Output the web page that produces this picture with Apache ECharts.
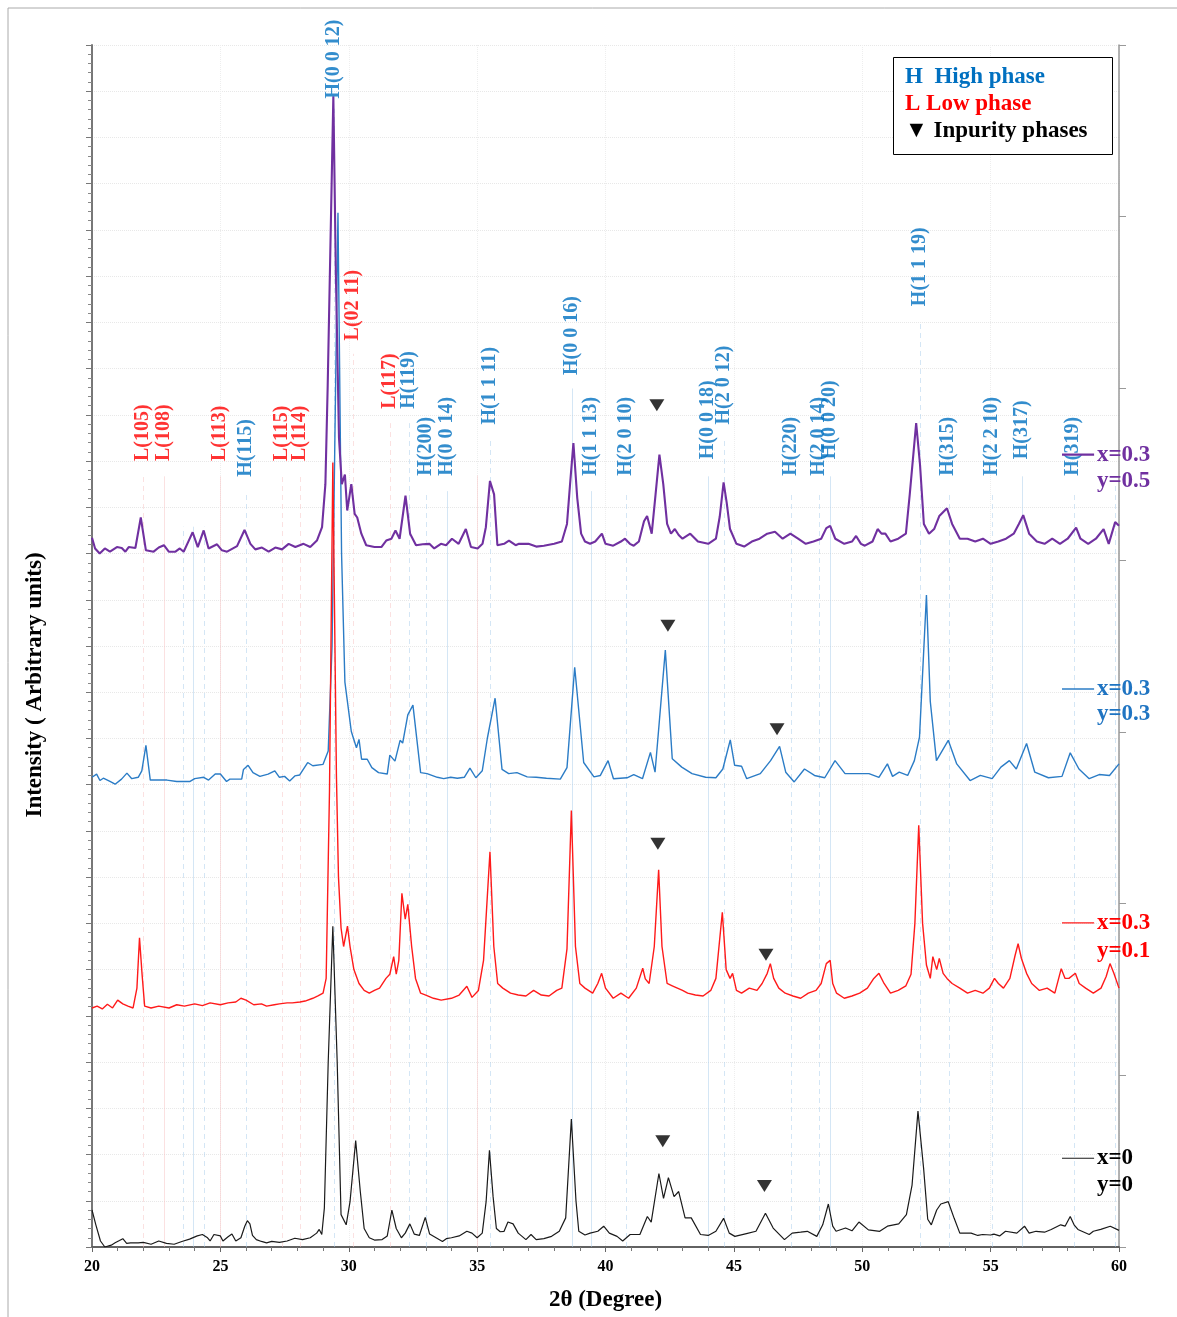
<!DOCTYPE html>
<html>
<head>
<meta charset="utf-8">
<script src="https://cdn.jsdelivr.net/npm/echarts/dist/echarts.min.js"></script>
<style>
  html, body { margin: 0; padding: 0; background: #fff; }
  #chart { width: 1177px; height: 1317px; }
</style>
</head>
<body>
<div id="chart"></div>
<script>
// ---- XRD patterns: [2θ (deg), intensity (a.u.)] ----
const patternX0Y0 = [
  [20.0,80],[20.15,48],[20.33,13],[20.5,0],[20.75,4],[20.9,9],[21.07,14],[21.2,18],[21.35,8],[21.5,9],
  [21.8,9],[22.0,10],[22.3,6],[22.6,13],[22.9,8],[23.2,6],[23.5,12],[23.8,17],[24.1,24],[24.3,27],
  [24.5,20],[24.6,13],[24.75,27],[25.0,24],[25.1,13],[25.3,22],[25.45,28],[25.6,13],[25.8,20],[25.95,45],
  [26.05,57],[26.15,50],[26.25,25],[26.4,16],[26.6,12],[26.8,9],[27.0,12],[27.3,10],[27.6,13],[27.9,19],
  [28.2,16],[28.5,20],[28.75,30],[28.85,38],[28.95,27],[29.05,84],[29.2,400],[29.38,694],[29.55,400],[29.7,70],
  [29.9,48],[30.05,98],[30.27,230],[30.45,120],[30.6,40],[30.8,20],[31.0,15],[31.3,16],[31.5,24],[31.68,80],
  [31.85,40],[32.05,20],[32.2,30],[32.38,50],[32.55,28],[32.75,25],[32.98,64],[33.15,28],[33.4,20],[33.65,12],
  [33.8,18],[34.0,20],[34.3,24],[34.6,34],[34.8,30],[35.0,20],[35.2,30],[35.35,98],[35.48,209],[35.62,110],
  [35.75,40],[35.9,33],[36.05,34],[36.2,54],[36.4,50],[36.6,30],[36.9,16],[37.1,27],[37.3,16],[37.6,18],
  [37.9,23],[38.2,34],[38.45,63],[38.67,277],[38.85,100],[38.96,34],[39.2,26],[39.4,30],[39.7,34],[39.93,45],
  [40.15,30],[40.45,23],[40.67,13],[40.96,27],[41.34,27],[41.63,66],[41.78,54],[42.08,159],[42.26,105],[42.45,150],
  [42.67,109],[42.85,120],[43.1,63],[43.34,63],[43.7,27],[44.0,25],[44.3,34],[44.6,62],[44.82,30],[45.04,23],
  [45.49,29],[45.86,34],[46.23,73],[46.53,41],[46.97,16],[47.27,30],[47.6,32],[47.86,34],[48.23,23],[48.46,48],
  [48.68,93],[48.85,45],[48.98,34],[49.35,41],[49.6,35],[49.87,54],[50.24,37],[50.68,34],[50.98,45],[51.42,50],
  [51.72,70],[51.94,134],[52.17,294],[52.39,170],[52.55,60],[52.69,48],[52.9,80],[53.06,93],[53.35,98],[53.58,62],
  [53.8,30],[54.24,30],[54.5,25],[54.69,27],[55.0,26],[55.13,28],[55.35,24],[55.58,34],[56.02,30],[56.32,45],
  [56.5,30],[56.77,34],[57.1,32],[57.36,38],[57.73,48],[57.9,45],[58.1,66],[58.25,48],[58.4,38],[58.84,27],
  [59.0,34],[59.29,38],[59.66,45],[60.0,36]
];

const patternX03Y01 = [
  [20.0,17],[20.2,21],[20.4,15],[20.6,25],[20.8,17],[21.0,34],[21.2,26],[21.4,21],[21.6,17],[21.75,60],
  [21.85,169],[21.95,90],[22.05,21],[22.3,17],[22.6,21],[23.0,17],[23.3,24],[23.6,21],[24.0,26],[24.3,22],
  [24.6,28],[25.0,24],[25.3,28],[25.6,30],[25.8,38],[26.0,34],[26.3,24],[26.6,26],[26.8,21],[27.1,24],
  [27.3,26],[27.6,28],[27.8,28],[28.1,30],[28.3,32],[28.6,38],[28.8,43],[29.0,49],[29.12,81],[29.25,487],
  [29.38,1197],[29.52,520],[29.6,300],[29.7,190],[29.8,150],[29.95,194],[30.05,150],[30.2,100],[30.4,70],[30.6,55],
  [30.8,49],[31.0,55],[31.2,60],[31.45,81],[31.6,90],[31.75,128],[31.85,90],[31.95,120],[32.07,265],[32.2,209],
  [32.3,241],[32.45,150],[32.6,81],[32.8,49],[33.0,45],[33.3,38],[33.6,34],[34.0,38],[34.3,45],[34.6,64],
  [34.8,40],[35.05,55],[35.25,120],[35.5,355],[35.65,150],[35.8,70],[36.0,60],[36.3,49],[36.6,45],[36.9,43],
  [37.2,55],[37.5,45],[37.8,43],[38.1,55],[38.3,60],[38.5,145],[38.67,444],[38.83,150],[39.0,70],[39.2,60],
  [39.5,49],[39.7,70],[39.85,92],[40.0,60],[40.3,38],[40.6,49],[40.9,38],[41.2,60],[41.45,103],[41.55,80],
  [41.7,70],[41.9,150],[42.07,316],[42.2,150],[42.4,70],[42.6,65],[42.8,60],[43.0,55],[43.2,49],[43.5,45],
  [43.8,43],[44.1,55],[44.3,81],[44.55,224],[44.7,100],[44.85,81],[44.95,92],[45.1,55],[45.3,49],[45.6,60],
  [45.9,55],[46.1,70],[46.3,92],[46.42,113],[46.55,81],[46.75,60],[47.0,49],[47.3,43],[47.6,38],[47.9,49],
  [48.2,55],[48.4,70],[48.6,113],[48.75,120],[48.85,70],[49.0,49],[49.3,38],[49.6,43],[49.9,49],[50.2,60],
  [50.45,81],[50.65,92],[50.85,70],[51.1,49],[51.4,55],[51.7,65],[51.9,90],[52.05,200],[52.2,412],[52.35,200],
  [52.5,110],[52.65,81],[52.75,128],[52.9,100],[53.0,124],[53.15,92],[53.3,81],[53.5,70],[53.8,60],[54.1,49],
  [54.4,55],[54.7,49],[54.95,60],[55.15,81],[55.3,70],[55.5,60],[55.75,81],[55.95,130],[56.07,156],[56.2,124],
  [56.4,92],[56.6,70],[56.9,55],[57.2,60],[57.5,49],[57.75,102],[57.9,81],[58.05,81],[58.3,92],[58.45,70],
  [58.7,60],[59.0,49],[59.3,60],[59.5,85],[59.65,113],[59.8,92],[60.0,60]
];

const patternX03Y03 = [
  [20.0,16],[20.18,23],[20.31,9],[20.44,14],[20.7,7],[20.9,1],[21.15,12],[21.36,25],[21.55,13],[21.8,16],
  [21.94,30],[22.1,85],[22.27,10],[22.53,10],[22.92,10],[23.3,7],[23.82,7],[24.0,13],[24.35,16],[24.54,10],
  [24.8,23],[25.0,23],[25.24,7],[25.37,12],[25.83,12],[25.9,33],[26.08,42],[26.27,26],[26.54,18],[26.86,23],
  [27.12,30],[27.3,16],[27.5,18],[27.7,8],[27.9,19],[28.09,21],[28.4,48],[28.6,41],[29.0,44],[29.2,73],
  [29.35,300],[29.58,1237],[29.72,500],[29.85,222],[30.1,115],[30.3,80],[30.4,98],[30.5,55],[30.72,55],[30.9,37],
  [31.16,26],[31.5,23],[31.6,64],[31.8,51],[32.0,96],[32.1,90],[32.3,151],[32.5,172],[32.8,26],[33.05,24],
  [33.45,16],[33.7,13],[33.97,16],[34.23,14],[34.5,16],[34.72,36],[34.95,15],[35.2,30],[35.4,101],[35.7,187],
  [35.97,33],[36.23,24],[36.55,26],[36.95,17],[37.3,16],[37.7,14],[38.24,12],[38.5,37],[38.8,254],[39.15,48],
  [39.55,17],[39.8,20],[40.1,52],[40.31,13],[40.84,15],[41.1,22],[41.44,13],[41.75,70],[41.93,27],[42.33,291],
  [42.6,56],[42.97,38],[43.37,24],[43.9,16],[44.3,15],[44.57,34],[44.86,97],[45.03,42],[45.3,40],[45.5,13],
  [46.03,24],[46.43,52],[46.78,83],[47.02,27],[47.35,6],[47.75,34],[48.14,20],[48.54,15],[48.94,52],[49.33,24],
  [49.73,24],[50.26,24],[50.65,16],[50.98,45],[51.18,18],[51.44,27],[51.77,20],[52.03,52],[52.23,103],[52.5,410],
  [52.65,180],[52.89,52],[53.35,96],[53.68,45],[54.2,9],[54.6,20],[55.06,13],[55.4,38],[55.73,52],[56.0,34],
  [56.4,89],[56.72,27],[57.25,15],[57.78,18],[58.1,69],[58.44,34],[58.84,13],[59.23,22],[59.63,20],[60.0,45]
];

const patternX03Y05 = [
  [20.0,34],[20.12,11],[20.3,0],[20.5,11],[20.7,4],[20.97,14],[21.16,12],[21.3,4],[21.43,14],[21.69,12],
  [21.9,78],[22.1,7],[22.4,4],[22.6,13],[22.8,18],[22.99,4],[23.25,4],[23.42,11],[23.57,4],[23.77,28],
  [23.92,46],[24.12,14],[24.35,50],[24.54,11],[24.87,20],[25.06,7],[25.26,4],[25.65,16],[25.94,51],[26.17,21],
  [26.36,9],[26.62,13],[26.88,4],[27.14,13],[27.4,9],[27.66,21],[27.92,14],[28.24,21],[28.5,14],[28.76,28],
  [28.96,57],[29.09,150],[29.18,363],[29.4,989],[29.5,600],[29.62,250],[29.73,150],[29.85,171],[29.94,93],[30.1,150],
  [30.23,86],[30.33,78],[30.49,43],[30.68,18],[31.0,14],[31.27,14],[31.46,28],[31.66,32],[31.82,50],[31.98,32],
  [32.21,125],[32.39,43],[32.62,18],[32.88,20],[33.14,21],[33.33,11],[33.59,21],[33.79,18],[34.02,32],[34.28,21],
  [34.56,53],[34.76,14],[35.02,11],[35.21,21],[35.34,57],[35.5,157],[35.66,128],[35.79,18],[36.05,21],[36.24,28],
  [36.5,18],[36.63,21],[37.0,21],[37.3,15],[37.6,17],[38.0,21],[38.3,26],[38.5,64],[38.62,150],[38.75,239],
  [38.9,120],[39.05,43],[39.2,26],[39.4,21],[39.6,26],[39.86,43],[40.0,21],[40.3,17],[40.6,26],[40.76,32],
  [40.95,21],[41.1,17],[41.3,26],[41.5,70],[41.62,81],[41.8,43],[41.95,128],[42.1,214],[42.25,150],[42.4,64],
  [42.55,43],[42.7,53],[42.85,40],[43.0,32],[43.3,43],[43.6,26],[44.0,21],[44.3,32],[44.45,80],[44.6,154],
  [44.72,110],[44.85,53],[45.1,21],[45.4,15],[45.7,26],[46.0,32],[46.3,43],[46.6,47],[46.9,32],[47.2,43],
  [47.5,32],[47.8,21],[48.1,26],[48.4,32],[48.6,55],[48.75,60],[48.95,32],[49.3,21],[49.6,26],[49.76,38],
  [49.95,21],[50.1,17],[50.4,26],[50.6,53],[50.75,43],[50.9,43],[51.1,26],[51.4,32],[51.7,43],[51.85,128],
  [52.1,282],[52.25,192],[52.4,64],[52.6,43],[52.8,53],[53.0,81],[53.3,98],[53.5,64],[53.8,32],[54.1,32],
  [54.4,26],[54.7,32],[55.0,21],[55.3,26],[55.6,32],[55.9,43],[56.1,64],[56.27,83],[56.5,43],[56.8,26],
  [57.1,21],[57.4,32],[57.7,21],[58.0,32],[58.33,56],[58.5,32],[58.8,21],[59.1,32],[59.4,53],[59.6,21],
  [59.85,68],[60.0,60]
];

// vertical stacking offset of each pattern (a.u.)
const stackOffset = [0, 500, 1000, 1500];
const sampleNames = [['x=0', 'y=0'], ['x=0.3', 'y=0.1'], ['x=0.3', 'y=0.3'], ['x=0.3', 'y=0.5']];

// ---- indexed reflections (2θ, hkl, phase) ----
const hklPos = [22.0, 22.8, 25.0, 27.42, 28.1, 30.18, 31.6, 35.0,
  23.57, 23.96, 24.36, 26.0, 29.42, 32.35, 33.03, 33.85, 35.5, 38.71, 39.43, 40.8,
  44.02, 44.64, 47.25, 48.31, 48.74, 52.25, 53.37, 55.07, 56.25, 58.24, 59.87];
const hklText = ['L(105)', 'L(108)', 'L(113)', 'L(115)', 'L(114)', 'L(02 11)', 'L(117)', '',
  '', '', '', 'H(115)', 'H(0 0 12)', 'H(119)', 'H(200)', 'H(0 0 14)', 'H(1 1 11)', 'H(0 0 16)', 'H(1 1 13)', 'H(2 0 10)',
  'H(0 0 18)', 'H(2 0 12)', 'H(220)', 'H(2 0 14)', 'H(0 0 20)', 'H(1 1 19)', 'H(315)', 'H(2 2 10)', 'H(317)', 'H(319)', ''];
const hklPhase = ['L', 'L', 'L', 'L', 'L', 'L', 'L', 'L',
  'H', 'H', 'H', 'H', 'H', 'H', 'H', 'H', 'H', 'H', 'H', 'H',
  'H', 'H', 'H', 'H', 'H', 'H', 'H', 'H', 'H', 'H', 'H'];

// impurity reflections per pattern: [2θ, height of the marker]
const impurityMarks = [[42.0, 1821], [42.43, 1344], [46.68, 1120], [42.04, 872], [46.25, 632], [42.23, 229], [46.19, 132]];

// ---- layout helpers (intensity units) ----
const hklLabelBase = [1699, 1699, 1699, 1699, 1699, 1960, 1812, null,
  null, null, null, 1665, 2483, 1812, 1667, 1667, 1778, 1885, 1667, 1667,
  1703, 1778, 1667, 1667, 1703, 2034, 1667, 1667, 1703, 1667, null];
const hklGuideTop = [1667, 1667, 1667, 1667, 1667, 1932, 1782, 1669,
  1558, 1558, 1558, 1628, 2462, 1782, 1635, 1635, 1746, 1857, 1635, 1635,
  1667, 1746, 1635, 1635, 1667, 2000, 1635, 1635, 1667, 1635, 1656];
const solidGuides = [22.8, 25.0, 35.0, 23.96, 33.85, 38.71, 39.43, 44.02, 48.74, 56.25];
const tagRows = [[192, 135], [701, 641], [1207, 1152], [1714, 1656]];

const SERIF = '"Liberation Serif", "Times New Roman", serif';
const sampleColors = ['#1a1a1a', '#ff1a1a', '#2b7cc6', '#7030a0'];
const tagColors = ['#000000', '#ff0000', '#1f74c2', '#7030a0'];
const lineWidths = [1.2, 1.4, 1.4, 2.1];
const H_COLOR = '#0070c0', L_COLOR = '#ff0000';

const chart = echarts.init(document.getElementById('chart'), null, { renderer: 'canvas' });

const patterns = [patternX0Y0, patternX03Y01, patternX03Y03, patternX03Y05];
const drawOrder = [0, 2, 1, 3];

const guideData = hklPos.map((x, i) => ({
  coords: [[x, 0], [x, hklGuideTop[i]]],
  lineStyle: {
    color: hklPhase[i] === 'H' ? '#a9cdec' : '#f7c4c4',
    type: solidGuides.indexOf(x) >= 0 ? 'solid' : [5, 4],
    width: 1
  }
}));

const labelData = [];
hklPos.forEach((x, i) => {
  if (!hklText[i]) return;
  labelData.push({
    value: [x, hklLabelBase[i]],
    name: hklText[i],
    label: { color: hklPhase[i] === 'H' ? H_COLOR : L_COLOR }
  });
});

const series = [
  {
    type: 'lines', coordinateSystem: 'cartesian2d', xAxisIndex: 0, yAxisIndex: 0,
    data: guideData, silent: true, z: 1, animation: false
  }
];
drawOrder.forEach(k => {
  series.push({
    type: 'line', xAxisIndex: 0, yAxisIndex: 0,
    data: patterns[k].map(p => [p[0], p[1] + stackOffset[k]]),
    showSymbol: false, symbol: 'none',
    lineStyle: { color: sampleColors[k], width: lineWidths[k] },
    z: 3, animation: false, silent: true
  });
});
series.push({
  type: 'scatter', xAxisIndex: 0, yAxisIndex: 0,
  data: impurityMarks,
  symbol: 'triangle', symbolRotate: 180, symbolSize: [15, 12],
  itemStyle: { color: '#000' }, z: 5, animation: false, silent: true
});
series.push({
  type: 'scatter', xAxisIndex: 0, yAxisIndex: 0,
  data: labelData, symbolSize: 1, itemStyle: { color: 'rgba(0,0,0,0)' },
  label: {
    show: true, formatter: p => p.name, position: [0, 0], rotate: 90,
    align: 'left', verticalAlign: 'middle',
    fontFamily: SERIF, fontWeight: 'bold', fontSize: 20
  },
  z: 6, animation: false, silent: true
});

chart.setOption({
  backgroundColor: '#fff',
  animation: false,
  grid: { left: 92, right: 58, top: 45, bottom: 55 },
  xAxis: [
    {
      type: 'value', min: 20, max: 60, interval: 5,
      name: '2θ (Degree)', nameLocation: 'middle', nameGap: 42,
      nameTextStyle: { fontFamily: SERIF, fontWeight: 'bold', fontSize: 23, color: '#000' },
      axisLine: { show: true, lineStyle: { color: '#666', width: 1.5 } },
      axisTick: { show: true, length: 5, lineStyle: { color: '#666' } },
      minorTick: { show: true, splitNumber: 5, length: 4, lineStyle: { color: '#777' } },
      axisLabel: { fontFamily: SERIF, fontWeight: 'bold', fontSize: 16, color: '#000', margin: 12 },
      splitLine: { show: true, lineStyle: { color: '#eeeeee', type: 'dotted' } }
    },
    {
      type: 'value', min: 20, max: 60, position: 'top',
      axisLine: { show: true, lineStyle: { color: '#555', width: 1.5 } },
      axisTick: { show: false }, axisLabel: { show: false }, splitLine: { show: false }
    }
  ],
  yAxis: [
    {
      type: 'value', min: 0, max: 2600, interval: 100,
      axisLine: { show: true, lineStyle: { color: '#777', width: 2 } },
      axisTick: { show: true, length: 6, lineStyle: { color: '#777' } },
      minorTick: { show: true, splitNumber: 5, length: 4, lineStyle: { color: '#888' } },
      axisLabel: { show: false },
      splitLine: { show: true, lineStyle: { color: '#e8e8e8', type: 'dotted' } }
    },
    {
      type: 'value', min: 0, max: 7, interval: 1, position: 'right',
      axisLine: { show: true, lineStyle: { color: '#999', width: 1.5 } },
      axisTick: { show: true, length: 7, lineStyle: { color: '#999' } },
      axisLabel: { show: false }, splitLine: { show: false }
    }
  ],
  series: series
});

// ---- annotations: sample tags, legend box, frame, y title ----
const toPx = (x, y) => chart.convertToPixel({ xAxisIndex: 0, yAxisIndex: 0 }, [x, y]);
const graphics = [];

// thin frame around the figure
graphics.push({ type: 'line', shape: { x1: 8, y1: 8, x2: 1177, y2: 8 }, style: { stroke: '#aaa', lineWidth: 1 }, silent: true });
graphics.push({ type: 'line', shape: { x1: 8, y1: 8, x2: 8, y2: 1317 }, style: { stroke: '#aaa', lineWidth: 1 }, silent: true });

// y axis title
graphics.push({
  type: 'text', x: 35, y: 685, rotation: Math.PI / 2,
  style: {
    text: 'Intensity ( Arbitrary units)', fill: '#000', align: 'center', verticalAlign: 'middle',
    font: 'bold 23px ' + SERIF
  }, silent: true
});

// sample tags on the right
tagRows.forEach((row, k) => {
  const a = toPx(57.78, row[0]);
  const b = toPx(59.03, row[0]);
  const t1 = toPx(59.14, row[0]);
  const t2 = toPx(59.14, row[1]);
  graphics.push({ type: 'line', shape: { x1: a[0], y1: a[1], x2: b[0], y2: b[1] },
    style: { stroke: sampleColors[k], lineWidth: lineWidths[k] }, z: 10, silent: true });
  graphics.push({ type: 'text', x: t1[0], y: t1[1], z: 10, silent: true,
    style: { text: sampleNames[k][0], fill: tagColors[k], align: 'left', verticalAlign: 'middle', font: 'bold 23px ' + SERIF } });
  graphics.push({ type: 'text', x: t2[0], y: t2[1], z: 10, silent: true,
    style: { text: sampleNames[k][1], fill: tagColors[k], align: 'left', verticalAlign: 'middle', font: 'bold 23px ' + SERIF } });
});

// phase key
graphics.push({ type: 'rect', shape: { x: 893.5, y: 57.5, width: 219, height: 97 },
  style: { fill: '#fff', stroke: '#000', lineWidth: 1 }, z: 10, silent: true });
const keyRows = [
  ['H  High phase', H_COLOR, 77],
  ['L Low phase', L_COLOR, 104],
  ['▼ Inpurity phases', '#000', 131]
];
keyRows.forEach(r => {
  graphics.push({ type: 'text', x: 905, y: r[2], z: 11, silent: true,
    style: { text: r[0], fill: r[1], align: 'left', verticalAlign: 'middle', font: 'bold 23px ' + SERIF } });
});

chart.setOption({ graphic: graphics });
</script>
</body>
</html>
